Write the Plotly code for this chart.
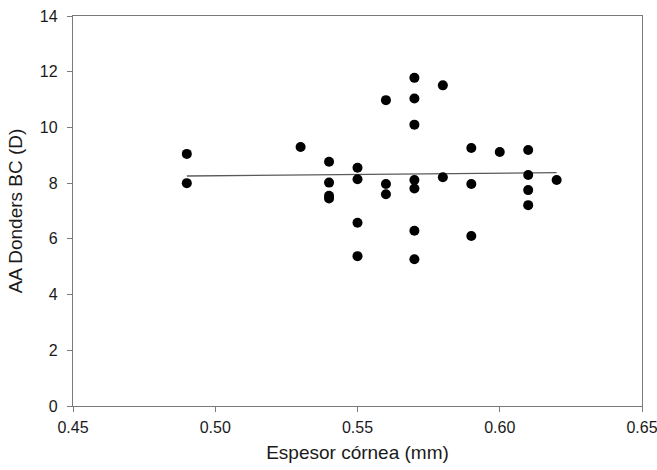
import numpy as np
import plotly.graph_objects as go

# Data
espesor = [0.49, 0.49,
           0.53,
           0.54, 0.54, 0.54, 0.54,
           0.55, 0.55, 0.55, 0.55,
           0.56, 0.56, 0.56,
           0.57, 0.57, 0.57, 0.57, 0.57, 0.57, 0.57,
           0.58, 0.58,
           0.59, 0.59, 0.59,
           0.60,
           0.61, 0.61, 0.61, 0.61,
           0.62]
donders = [9.05, 8.0,
           9.3,
           8.77, 8.02, 7.55, 7.45,
           8.55, 8.14, 6.58, 5.38,
           10.98, 7.97, 7.6,
           11.78, 11.04, 10.1, 8.11, 7.81, 6.29, 5.27,
           11.51, 8.21,
           9.26, 7.97, 6.1,
           9.12,
           9.19, 8.29, 7.75, 7.21,
           8.11]

x_ticks = [0.45, 0.50, 0.55, 0.60, 0.65]
y_ticks = [0, 2, 4, 6, 8, 10, 12, 14]

# Linear regression from the data
slope, intercept = np.polyfit(espesor, donders, 1)
fit_x = [min(espesor), max(espesor)]
fit_y = [slope * v + intercept for v in fit_x]

fig = go.Figure()
fig.add_trace(go.Scatter(x=fit_x, y=fit_y, mode="lines",
                         line=dict(color="#5a5a5a", width=1.3),
                         showlegend=False, hoverinfo="skip"))
fig.add_trace(go.Scatter(x=espesor, y=donders, mode="markers",
                         marker=dict(color="black", size=10, line=dict(width=0)),
                         showlegend=False))

font_family = "Liberation Sans, Arial, sans-serif"
axis_common = dict(showline=True, linecolor="#7a7a7a", linewidth=1.3, mirror=True,
                   showgrid=False, zeroline=False, ticks="outside", ticklen=5,
                   tickcolor="#7a7a7a", tickwidth=1.3, automargin=False,
                   ticklabeloverflow="allow",
                   tickfont=dict(family=font_family, size=16, color="#1a1a1a"))

fig.update_layout(
    width=657, height=470,
    margin=dict(l=73, r=15, t=16, b=64),
    paper_bgcolor="white", plot_bgcolor="white",
    font=dict(family=font_family, color="#1a1a1a"),
    xaxis=dict(range=[0.45, 0.65], tickvals=x_ticks, tickformat=".2f",
               ticklabelstandoff=2,
               title=dict(text="Espesor córnea (mm)", font=dict(size=19), standoff=10),
               **axis_common),
    yaxis=dict(range=[0, 14], tickvals=y_ticks, ticklabelstandoff=6,
               title=dict(text="AA Donders BC (D)", font=dict(size=19), standoff=12),
               **axis_common),
)

fig.write_html("out.html", config={"displayModeBar": False},
               post_script="document.body.style.margin='0';")
